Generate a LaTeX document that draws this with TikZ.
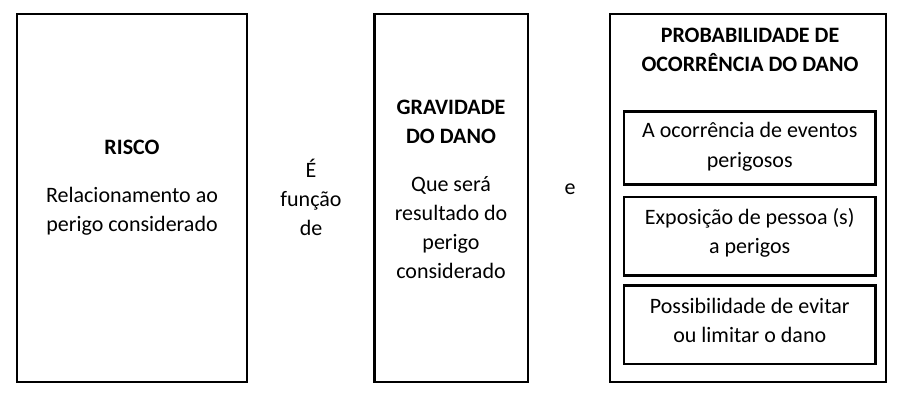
\documentclass[tikz,border=0pt]{standalone}
\usepackage{fontspec}
\setmainfont{Carlito}
\tikzset{
  caixa/.style={draw=black,line width=2.6pt,inner sep=0pt},
  texto/.style={align=center,anchor=base,inner sep=0pt,font=\fontsize{22}{29}\selectfont},
}

\begin{document}
\begin{tikzpicture}[x=1pt,y=-1pt]
  \useasboundingbox (0,0) rectangle (904,401);
  % caixas principais
  \node[caixa,minimum width=230pt,minimum height=368pt] (risco) at (132,198) {};
  \node[caixa,minimum width=153.5pt,minimum height=368pt] (gravidade) at (451.25,198) {};
  \node[caixa,minimum width=276pt,minimum height=368pt] (prob) at (748,198) {};
  % caixas internas
  \node[caixa,minimum width=251.5pt,minimum height=73pt] (eventos) at (749.75,148) {};
  \node[caixa,minimum width=251.5pt,minimum height=78.5pt] (exposicao) at (749.75,236.25) {};
  \node[caixa,minimum width=251.5pt,minimum height=78.5pt] (evitar) at (749.75,324.75) {};
  % textos (base = ultima linha)
  \node[texto] (t-risco) at (132,231.5) {\textbf{RISCO}\\[19pt]Relacionamento ao\\perigo considerado};
  \node[texto] (t-funcao) at (311,235) {É\\função\\de};
  \node[texto] (t-gravidade) at (451,278) {\textbf{GRAVIDADE}\\\textbf{DO DANO}\\[19pt]Que será\\resultado do\\perigo\\considerado};
  \node[texto] (t-e) at (570,194) {e};
  \node[texto] (t-prob) at (750,71.7) {\textbf{PROBABILIDADE DE}\\\textbf{OCORRÊNCIA DO DANO}};
  \node[texto] (t-eventos) at (749.75,167) {A ocorrência de eventos\\perigosos};
  \node[texto] (t-exposicao) at (749.75,253) {Exposição de pessoa (s)\\a perigos};
  \node[texto] (t-evitar) at (749.75,342.5) {Possibilidade de evitar\\ou limitar o dano};
\end{tikzpicture}
\end{document}
